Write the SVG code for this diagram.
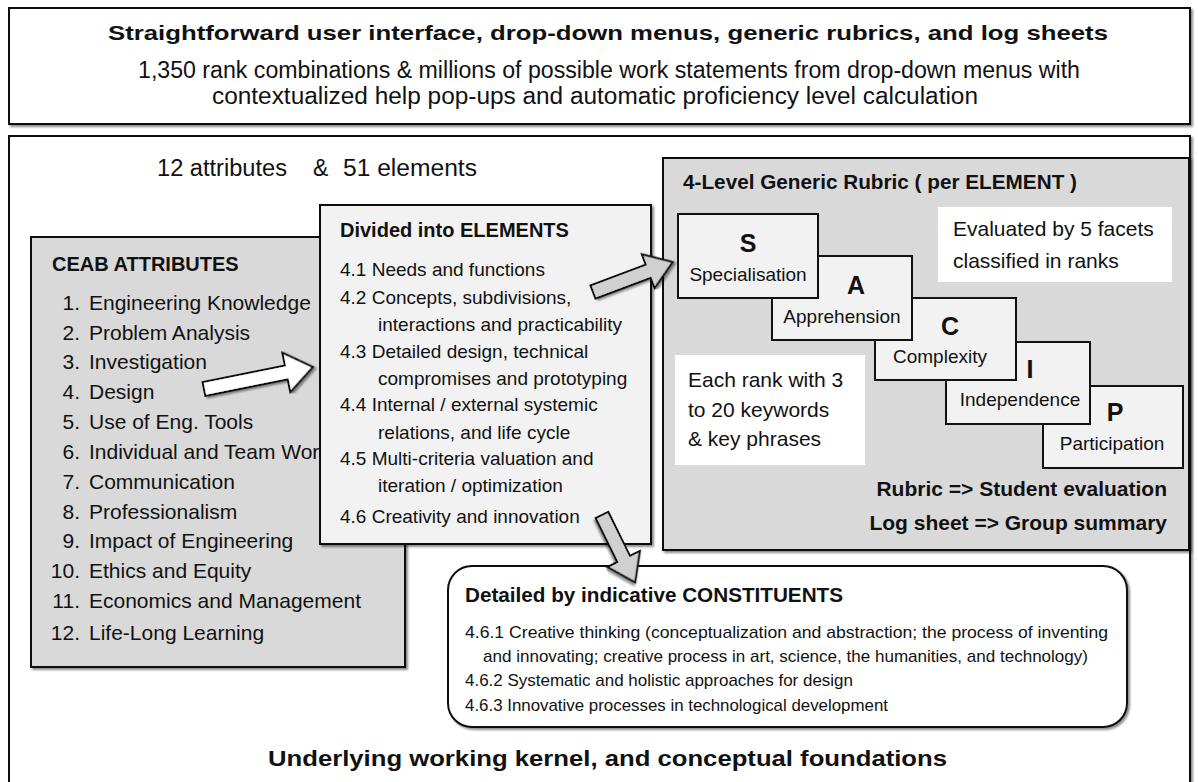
<svg xmlns="http://www.w3.org/2000/svg" width="1198" height="782" viewBox="0 0 1198 782">
<defs>
<filter id="sh" x="-5%" y="-5%" width="110%" height="110%">
<feDropShadow dx="2" dy="2" stdDeviation="1" flood-color="#000" flood-opacity="0.45"/>
</filter>
<style>
text{font-family:"Liberation Sans",Arial,sans-serif;fill:#111;}
.b{font-weight:bold;}
.box{stroke:#111;stroke-width:2;}
.g{fill:#d9d9d9;}
.l{fill:#f2f2f2;}
.w{fill:#fff;}
.t21{font-size:21px;}
.t19{font-size:19px;}
.t20{font-size:20px;}
.t17{font-size:17px;}
.big{font-size:25px;font-weight:bold;}
.c{text-anchor:middle;}
.r{text-anchor:end;}
.arr{stroke:#111;stroke-width:2;stroke-linejoin:miter;}
</style>
</defs>

<g id="top-panel">
<rect class="box w" x="9" y="8" width="1181" height="116" filter="url(#sh)"/>
<text class="b" font-size="21" x="108" y="40" textLength="1000" lengthAdjust="spacingAndGlyphs">Straightforward user interface, drop-down menus, generic rubrics, and log sheets</text>
<text font-size="23" x="138" y="78" textLength="942" lengthAdjust="spacingAndGlyphs">1,350 rank combinations &amp; millions of possible work statements from drop-down menus with</text>
<text font-size="23" x="212" y="104" textLength="766" lengthAdjust="spacingAndGlyphs">contextualized help pop-ups and automatic proficiency level calculation</text>
</g>

<g id="kernel-panel">
<rect class="box w" x="9" y="136" width="1181" height="670" filter="url(#sh)"/>
<text font-size="23" x="157" y="176" textLength="130" lengthAdjust="spacingAndGlyphs">12 attributes</text>
<text font-size="23" x="313" y="176">&amp;</text>
<text font-size="23" x="343" y="176" textLength="134" lengthAdjust="spacingAndGlyphs">51 elements</text>
<text class="b" font-size="22" x="268" y="766" textLength="679" lengthAdjust="spacingAndGlyphs">Underlying working kernel, and conceptual  foundations</text>
</g>

<g id="ceab">
<rect class="box g" x="31" y="237" width="374" height="430" filter="url(#sh)"/>
<text class="b t20" x="52" y="271">CEAB ATTRIBUTES</text>
<g class="t21">
<text class="r" x="80" y="310">1.</text><text x="89" y="310">Engineering Knowledge</text>
<text class="r" x="80" y="340">2.</text><text x="89" y="340">Problem Analysis</text>
<text class="r" x="80" y="369">3.</text><text x="89" y="369">Investigation</text>
<text class="r" x="80" y="399">4.</text><text x="89" y="399">Design</text>
<text class="r" x="80" y="429">5.</text><text x="89" y="429">Use of Eng. Tools</text>
<text class="r" x="80" y="459">6.</text><text x="89" y="459">Individual and Team Work</text>
<text class="r" x="80" y="489">7.</text><text x="89" y="489">Communication</text>
<text class="r" x="80" y="519">8.</text><text x="89" y="519">Professionalism</text>
<text class="r" x="80" y="548">9.</text><text x="89" y="548">Impact of Engineering</text>
<text class="r" x="80" y="578">10.</text><text x="89" y="578">Ethics and Equity</text>
<text class="r" x="80" y="608">11.</text><text x="89" y="608">Economics and Management</text>
<text class="r" x="80" y="640">12.</text><text x="89" y="640">Life-Long Learning</text>
</g>
</g>

<g id="elements">
<rect class="box l" x="320" y="205" width="331" height="339" filter="url(#sh)"/>
<text class="b t20" x="340" y="237">Divided into ELEMENTS</text>
<g class="t19">
<text x="340" y="276">4.1 Needs and functions</text>
<text x="340" y="304">4.2 Concepts, subdivisions,</text>
<text x="378" y="331">interactions and practicability</text>
<text x="340" y="358">4.3 Detailed design, technical</text>
<text x="378" y="385">compromises and prototyping</text>
<text x="340" y="411">4.4 Internal / external systemic</text>
<text x="378" y="439">relations, and life cycle</text>
<text x="340" y="465">4.5 Multi-criteria valuation and</text>
<text x="378" y="492">iteration / optimization</text>
<text x="340" y="523">4.6 Creativity and innovation</text>
</g>
</g>

<g id="rubric">
<rect class="box g" x="663" y="158" width="526" height="392" filter="url(#sh)"/>
<text class="b t20" x="683" y="189" textLength="394" lengthAdjust="spacingAndGlyphs">4-Level Generic Rubric ( per ELEMENT )</text>
<rect class="w" x="938" y="207" width="234" height="75"/>
<text class="t21" x="953" y="236">Evaluated by 5 facets</text>
<text class="t21" x="953" y="268">classified in ranks</text>
<rect class="w" x="675" y="355" width="190" height="110"/>
<text class="t21" x="688" y="387">Each rank with 3</text>
<text class="t21" x="688" y="417">to 20 keywords</text>
<text class="t21" x="688" y="446">&amp; key phrases</text>
<text class="b r" font-size="21" x="1167" y="496">Rubric =&gt; Student evaluation</text>
<text class="b r" font-size="21" x="1167" y="530">Log sheet =&gt; Group summary</text>
</g>

<g id="facet-P">
<rect class="box l" x="1043" y="386" width="140" height="82"/>
<text class="big c" x="1115" y="421">P</text>
<text class="t19 c" x="1112" y="450">Participation</text>
</g>
<g id="facet-I">
<rect class="box l" x="946" y="342" width="144" height="82"/>
<text class="big c" x="1030" y="378">I</text>
<text class="t19 c" x="1020" y="406">Independence</text>
</g>
<g id="facet-C">
<rect class="box l" x="875" y="298" width="141" height="82"/>
<text class="big c" x="950" y="335">C</text>
<text class="t19 c" x="940" y="363">Complexity</text>
</g>
<g id="facet-A">
<rect class="box l" x="772" y="256" width="140" height="84"/>
<text class="big c" x="856" y="294">A</text>
<text class="t19 c" x="842" y="323">Apprehension</text>
</g>
<g id="facet-S">
<rect class="box l" x="678" y="214" width="140" height="84"/>
<text class="big c" x="748" y="252">S</text>
<text class="t19 c" x="748" y="281">Specialisation</text>
</g>

<g id="constituents">
<rect class="box w" x="448" y="566" width="679" height="161" rx="24" ry="24" filter="url(#sh)"/>
<text class="b t20" x="465" y="602" textLength="378" lengthAdjust="spacingAndGlyphs">Detailed by indicative CONSTITUENTS</text>
<text class="t17" x="465" y="638" textLength="643" lengthAdjust="spacingAndGlyphs">4.6.1 Creative thinking (conceptualization and abstraction; the process of inventing</text>
<text class="t17" x="483" y="662" textLength="605" lengthAdjust="spacingAndGlyphs">and innovating; creative process in art, science, the humanities, and technology)</text>
<text class="t17" x="465" y="686" textLength="388" lengthAdjust="spacingAndGlyphs">4.6.2 Systematic and holistic approaches for design</text>
<text class="t17" x="465" y="711" textLength="423" lengthAdjust="spacingAndGlyphs">4.6.3 Innovative processes in technological development</text>
</g>

<g id="connectors">
<polygon class="arr" fill="#fff" filter="url(#sh)" transform="translate(204,389) rotate(-11.4)" points="0,-7 84,-7 84,-20 111,0 84,20 84,7 0,7"/>
<polygon class="arr" fill="#d0d0d0" filter="url(#sh)" transform="translate(593,292) rotate(-20.6)" points="0,-7 59,-7 59,-18 85,0 59,18 59,7 0,7"/>
<polygon class="arr" fill="#d0d0d0" filter="url(#sh)" transform="translate(602,515) rotate(63.8)" points="0,-7 49,-7 49,-18 75,0 49,18 49,7 0,7"/>
</g>
</svg>
